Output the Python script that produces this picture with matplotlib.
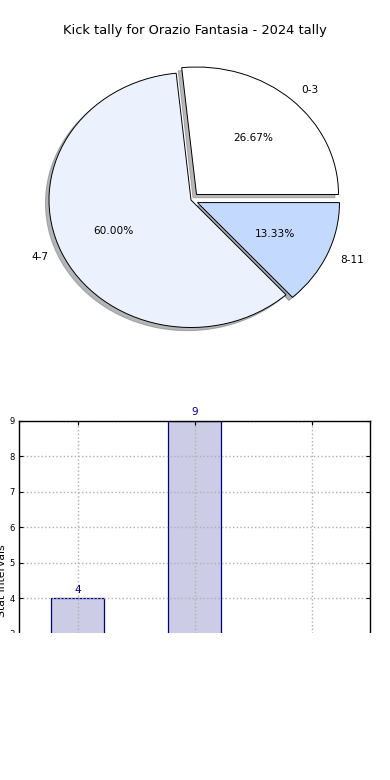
import matplotlib
matplotlib.use("Agg")
import matplotlib.pyplot as plt
from matplotlib.patches import Rectangle

categories = ["0-3", "4-7", "8-11"]
counts = [4, 9, 2]
explode = [0.058, 0.0, 0.05]
pie_colors = ["#ffffff", "#ebf2fe", "#c4d9fe"]
title = "Kick tally for Orazio Fantasia - 2024 tally"
ylabel = "Stat intervals"
yticks = list(range(0, 10))

W, H = 390, 780
fig = plt.figure(figsize=(W / 100, H / 100), dpi=100)
fig.patch.set_facecolor("white")

def box(l, t, r, b):
    return [l / W, 1 - b / H, (r - l) / W, (b - t) / H]

# Pie
cx, cy, rx, ry = 191, 200, 142, 127.5
axp = fig.add_axes(box(cx - 1.25 * rx, cy - 1.25 * ry, cx + 1.25 * rx, cy + 1.25 * ry))
wedges, texts, autotexts = axp.pie(
    counts, labels=categories, colors=pie_colors, explode=explode,
    autopct="%.2f%%", startangle=0,
    shadow=dict(ox=-0.018, oy=-0.018, shade=0.55), counterclock=True,
    wedgeprops=dict(edgecolor="black", linewidth=0.7),
    textprops=dict(fontsize=7.6, color="black"))
axp.set_aspect("auto")
axp.set_xlim(-1.25, 1.25)
axp.set_ylim(-1.25, 1.25)
fig.text(0.5, 1 - 30.5 / H, title, ha="center", va="center", fontsize=9.4)

# Bar
axb = fig.add_axes(box(19, 421, 370, 740))
x = list(range(len(categories)))
axb.bar(x, counts, width=0.45, color=(0.8, 0.8, 0.9), edgecolor="navy", linewidth=0.9, zorder=2)
for xi, v in zip(x, counts):
    axb.text(xi, v + 0.1, str(v), ha="center", va="bottom", fontsize=7.6, color="navy", zorder=3)
axb.set_xlim(-0.5, 2.5)
axb.set_ylim(0, 9)
axb.set_xticks(x)
axb.set_xticklabels(categories)
axb.set_yticks(yticks)
axb.grid(True, linestyle=":", color="#b0b0b0", linewidth=1.0, zorder=2.2)
axb.set_axisbelow(False)
axb.tick_params(direction="in", top=True, right=True, labelsize=6, length=3, pad=3)
axb.set_ylabel(ylabel, fontsize=7.8, labelpad=2)
for s in axb.spines.values():
    s.set_linewidth(1.0)
    s.set_zorder(5)

# Cut-off region at bottom
fig.patches.append(Rectangle((0, 0), 1, (H - 633) / H, transform=fig.transFigure,
                             facecolor="white", edgecolor="none", zorder=100))

fig.savefig("out.png", dpi=100, facecolor="white")
